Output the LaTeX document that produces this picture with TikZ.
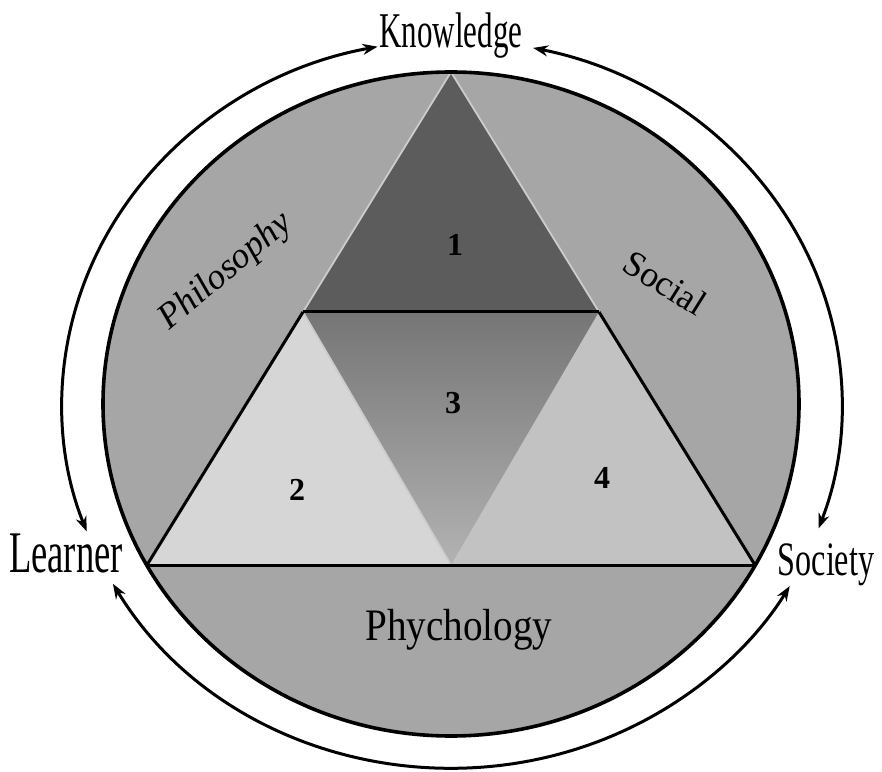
\documentclass[tikz,border=0pt]{standalone}
\usepackage{fontspec}
\setmainfont{Liberation Serif}
\usetikzlibrary{arrows.meta,calc}
\begin{document}
\begin{tikzpicture}[x=1pt,y=1pt,
  arr/.style={line width=3pt,{Stealth[length=15pt,width=11pt]}-{Stealth[length=15pt,width=11pt]}},
  edgeline/.style={line width=3pt},
  lightline/.style={line width=1.8pt, white!80!black},
  lbl/.style={inner sep=0pt, anchor=base},
  num/.style={inner sep=0pt, font=\fontsize{32}{36}\selectfont\bfseries}]
\useasboundingbox (0,0) rectangle (882,771);
\coordinate (O) at (451,367);
\coordinate (O2) at (452,367);
\fill[black!35] (O) ellipse [x radius=348, y radius=332];
\coordinate (A) at (451,699);
\coordinate (B) at (147,206);
\coordinate (C) at (755,206);
\coordinate (P) at (303,459);
\coordinate (Q) at (599,459);
\coordinate (M) at (451,206);
\fill[black!64] (A)--(P)--(Q)--cycle;
\shade[top color=black!54, bottom color=black!30] (P)--(Q)--(M)--cycle;
\fill[black!16] (B)--(P)--(M)--cycle;
\fill[black!24] (Q)--(C)--(M)--cycle;
\draw[lightline] (P)--(A)--(Q);
\draw[lightline] (P)--(M);
\draw[edgeline] (B)--(P);
\draw[edgeline] (Q)--(C);
\draw[edgeline] (B)--(C);
\draw[edgeline] (P)--(Q);
\draw[line width=3.6pt] (O) ellipse [x radius=348, y radius=332];
% labels
\node[lbl] (know) at (451,723) {\scalebox{0.62}[1]{\fontsize{50}{60}\selectfont Knowledge}};
\node[lbl] (learn) at (66,199) {\scalebox{0.62}[1]{\fontsize{59}{70}\selectfont Learner}};
\node[lbl] (soc) at (826,196) {\scalebox{0.67}[1]{\fontsize{48}{58}\selectfont Society}};
\node[lbl] (psy) at (459,131) {\scalebox{0.87}[1]{\fontsize{45}{54}\selectfont Phychology}};
\node[inner sep=0pt, rotate=40] (phil) at (226,499) {\fontsize{36}{42}\selectfont\itshape Philosophy};
\node[inner sep=0pt, rotate=-32] (social) at (665,488) {\fontsize{36}{42}\selectfont Social};
\node[num] (n1) at (455,526) {1};
\node[num] (n3) at (453,368) {3};
\node[num] (n2) at (297,281) {2};
\node[num] (n4) at (602,293) {4};
% arrows
\coordinate (kl) at ($(O2)+(101:390 and 364)$);
\coordinate (kr) at ($(O2)+(78:390 and 364)$);
\coordinate (lu) at ($(O2)+(200.5:390 and 364)$);
\coordinate (ld) at ($(O2)+(209.6:390 and 364)$);
\coordinate (su) at ($(O2)+(-20:390 and 364)$);
\coordinate (sd) at ($(O2)+(-30:390 and 364)$);
\draw[arr] (kl) arc[start angle=101, end angle=200.5, x radius=390, y radius=364];
\draw[arr] (kr) arc[start angle=78, end angle=-20, x radius=390, y radius=364];
\draw[arr] (ld) arc[start angle=209.6, end angle=330, x radius=390, y radius=364];
\end{tikzpicture}
\end{document}
